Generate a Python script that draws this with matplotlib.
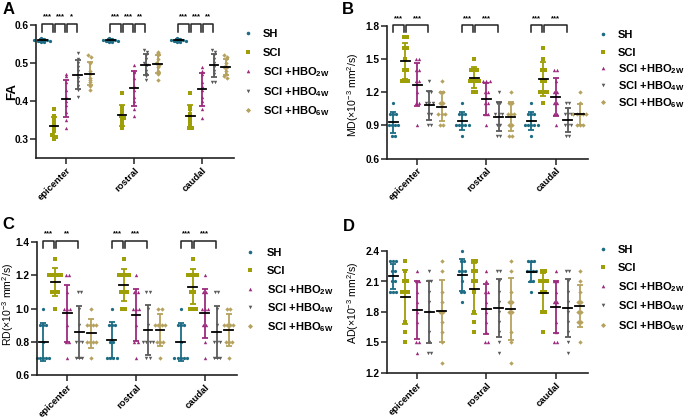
import numpy as np
import matplotlib.pyplot as plt

plt.rcParams['font.family'] = ['Liberation Sans', 'DejaVu Sans']
plt.rcParams['mathtext.fontset'] = 'custom'
plt.rcParams['mathtext.rm'] = 'Liberation Sans'
plt.rcParams['mathtext.bf'] = 'Liberation Sans:bold'

regions = ['epicenter', 'rostral', 'caudal']
groups = ['SH', 'SCI', r'SCI +HBO$_{\mathbf{2W}}$', r'SCI +HBO$_{\mathbf{4W}}$',
          r'SCI +HBO$_{\mathbf{6W}}$']
colors = ['#1d6c84', '#9e9e06', '#9c2b7e', '#5b5b5b', '#b6a25e']
markers = ['o', 's', '^', 'v', 'D']
msizes = [5.5, 6.5, 6, 6, 5]

# FA values, per group: [epicenter, rostral, caudal]
fa_sh = [[0.555, 0.56, 0.565, 0.558, 0.562, 0.556, 0.564, 0.559, 0.561, 0.557]] * 3
fa_sci = [[0.38, 0.36, 0.35, 0.34, 0.335, 0.33, 0.32, 0.31, 0.305, 0.30],
          [0.42, 0.385, 0.38, 0.37, 0.36, 0.355, 0.35, 0.34, 0.335, 0.33],
          [0.42, 0.385, 0.38, 0.365, 0.36, 0.35, 0.345, 0.335, 0.33, 0.33]]
fa_2w = [[0.47, 0.465, 0.45, 0.43, 0.41, 0.40, 0.39, 0.37, 0.35, 0.33],
         [0.495, 0.48, 0.475, 0.46, 0.44, 0.43, 0.41, 0.40, 0.38, 0.36],
         [0.49, 0.48, 0.47, 0.45, 0.44, 0.43, 0.41, 0.40, 0.38, 0.355]]
fa_4w = [[0.525, 0.51, 0.50, 0.49, 0.48, 0.46, 0.45, 0.44, 0.43, 0.41],
         [0.535, 0.53, 0.52, 0.51, 0.50, 0.495, 0.48, 0.47, 0.465, 0.455],
         [0.535, 0.53, 0.52, 0.51, 0.50, 0.49, 0.48, 0.47, 0.45, 0.45]]
fa_6w = [[0.52, 0.515, 0.50, 0.48, 0.47, 0.46, 0.455, 0.45, 0.44, 0.43],
         [0.53, 0.525, 0.52, 0.51, 0.50, 0.495, 0.49, 0.48, 0.47, 0.455],
         [0.52, 0.515, 0.51, 0.50, 0.49, 0.49, 0.48, 0.47, 0.465, 0.46]]

# MD
md_sh = [[1.1, 1.0, 1.0, 1.0, 0.9, 0.9, 0.9, 0.9, 0.8, 0.8],
         [1.1, 1.0, 1.0, 1.0, 0.9, 0.9, 0.9, 0.9, 0.9, 0.8],
         [1.1, 1.0, 1.0, 1.0, 0.9, 0.9, 0.9, 0.9, 0.9, 0.8]]
md_sci = [[1.7, 1.7, 1.6, 1.6, 1.5, 1.4, 1.4, 1.3, 1.3, 1.3],
          [1.5, 1.4, 1.4, 1.4, 1.3, 1.3, 1.3, 1.2, 1.2, 1.3],
          [1.6, 1.5, 1.4, 1.4, 1.3, 1.3, 1.2, 1.2, 1.2, 1.1]]
md_2w = [[1.5, 1.5, 1.4, 1.4, 1.3, 1.3, 1.2, 1.1, 1.1, 0.9],
         [1.3, 1.3, 1.3, 1.2, 1.2, 1.1, 1.1, 1.0, 1.0, 0.9],
         [1.4, 1.4, 1.3, 1.2, 1.2, 1.1, 1.1, 1.0, 1.0, 0.9]]
md_4w = [[1.3, 1.2, 1.2, 1.1, 1.1, 1.1, 1.0, 1.0, 0.9, 0.9],
         [1.2, 1.1, 1.1, 1.0, 1.0, 1.0, 0.9, 0.9, 0.8, 0.8],
         [1.1, 1.1, 1.0, 1.0, 1.0, 0.9, 0.9, 0.9, 0.8, 0.8]]
md_6w = [[1.3, 1.2, 1.2, 1.1, 1.1, 1.0, 1.0, 1.0, 0.9, 0.9],
         [1.2, 1.1, 1.1, 1.0, 1.0, 1.0, 0.9, 0.9, 0.8, 0.8],
         [1.2, 1.1, 1.0, 1.0, 1.0, 1.0, 0.9, 0.9, 0.9, 1.0]]

# RD
rd_sh = [[1.0, 0.9, 0.9, 0.9, 0.8, 0.7, 0.7, 0.7, 0.7, 0.7],
         [1.0, 0.9, 0.9, 0.9, 0.8, 0.8, 0.7, 0.7, 0.7, 0.7],
         [1.0, 0.9, 0.9, 0.9, 0.8, 0.7, 0.7, 0.7, 0.7, 0.7]]
rd_sci = [[1.3, 1.2, 1.2, 1.2, 1.2, 1.2, 1.1, 1.1, 1.1, 1.0],
          [1.3, 1.2, 1.2, 1.2, 1.2, 1.1, 1.1, 1.1, 1.0, 1.0],
          [1.3, 1.2, 1.2, 1.2, 1.2, 1.1, 1.1, 1.0, 1.0, 1.0]]
rd_2w = [[1.2, 1.2, 1.1, 1.0, 1.0, 1.0, 0.9, 0.8, 0.8, 0.7],
         [1.2, 1.1, 1.1, 1.0, 1.0, 1.0, 0.9, 0.8, 0.8, 0.7],
         [1.2, 1.1, 1.1, 1.0, 1.0, 1.0, 0.9, 0.9, 0.8, 0.7]]
rd_4w = [[1.1, 1.1, 1.0, 0.9, 0.8, 0.8, 0.8, 0.7, 0.7, 0.7],
         [1.1, 1.1, 1.0, 0.9, 0.8, 0.8, 0.8, 0.7, 0.7, 0.8],
         [1.1, 1.1, 1.0, 0.9, 0.8, 0.8, 0.8, 0.7, 0.7, 0.7]]
rd_6w = [[1.0, 0.9, 0.9, 0.9, 0.8, 0.8, 0.8, 0.8, 0.9, 0.7],
         [1.0, 1.0, 0.9, 0.9, 0.9, 0.8, 0.8, 0.8, 0.7, 0.9],
         [1.0, 1.0, 0.9, 0.9, 0.8, 0.8, 0.8, 0.9, 0.7, 0.9]]

# AD
ad_sh = [[2.3, 2.3, 2.3, 2.2, 2.2, 2.1, 2.1, 2.0, 2.0, 2.0],
         [2.4, 2.3, 2.3, 2.2, 2.2, 2.2, 2.1, 2.0, 2.0, 1.9],
         [2.3, 2.3, 2.3, 2.2, 2.2, 2.2, 2.2, 2.1, 2.1, 2.0]]
ad_sci = [[2.3, 2.2, 2.1, 2.1, 2.0, 2.0, 2.0, 1.7, 1.6, 1.5],
          [2.3, 2.3, 2.2, 2.2, 2.1, 2.1, 2.0, 1.8, 1.7, 1.6],
          [2.2, 2.2, 2.1, 2.1, 2.1, 2.0, 2.0, 1.8, 1.8, 1.6]]
ad_2w = [[2.2, 2.1, 2.1, 2.0, 1.9, 1.8, 1.7, 1.5, 1.5, 1.4],
         [2.2, 2.1, 2.0, 2.0, 1.9, 1.8, 1.7, 1.6, 1.5, 1.5],
         [2.2, 2.1, 2.1, 2.0, 1.9, 1.9, 1.7, 1.6, 1.5, 1.5]]
ad_4w = [[2.2, 2.1, 2.1, 2.0, 1.9, 1.8, 1.6, 1.5, 1.4, 1.4],
         [2.2, 2.2, 2.1, 2.0, 1.9, 1.8, 1.7, 1.6, 1.5, 1.4],
         [2.2, 2.2, 2.1, 2.0, 1.9, 1.8, 1.7, 1.6, 1.5, 1.4]]
ad_6w = [[2.3, 2.2, 2.0, 1.9, 1.8, 1.8, 1.7, 1.6, 1.5, 1.3],
         [2.3, 2.2, 2.0, 1.9, 1.9, 1.8, 1.8, 1.6, 1.5, 1.3],
         [2.2, 2.1, 2.0, 1.9, 1.9, 1.8, 1.8, 1.7, 1.7, 1.5]]

# significance brackets: (region, group from, group to, label)
sig_fa = [(0, 0, 1, '***'), (0, 1, 2, '***'), (0, 2, 3, '*'),
          (1, 0, 1, '***'), (1, 1, 2, '***'), (1, 2, 3, '**'),
          (2, 0, 1, '***'), (2, 1, 2, '***'), (2, 2, 3, '**')]
sig_md = [(0, 0, 1, '***'), (0, 1, 3, '***'),
          (1, 0, 1, '***'), (1, 1, 3, '***'),
          (2, 0, 1, '***'), (2, 1, 3, '***')]
sig_rd = [(0, 0, 1, '***'), (0, 1, 3, '**'),
          (1, 0, 1, '***'), (1, 1, 3, '***'),
          (2, 0, 1, '***'), (2, 1, 3, '***')]

offs = np.array([-0.35, -0.175, 0.0, 0.175, 0.35])
W, H = 685.0, 419.0


def spread(vals, binh, dx=0.045):
    # place equal-ish values side by side
    keys = np.round(vals / binh)
    out = np.zeros(len(vals))
    for k in np.unique(keys):
        idx = np.where(keys == k)[0]
        n = len(idx)
        out[idx] = (np.arange(n) - (n - 1) / 2) * dx
    return out


def panel(ax, data, ylim, yticks, ylabel, ylabel_kw, label_xy, sig=None, sig_y=None):
    binh = (ylim[1] - ylim[0]) * 0.02
    for g in range(5):
        for r in range(3):
            vals = np.array(data[g][r])
            x0 = r + offs[g]
            ax.scatter(x0 + spread(vals, binh), vals, s=msizes[g], marker=markers[g],
                       color=colors[g], lw=0, zorder=2, clip_on=False)
            m, sd = vals.mean(), vals.std(ddof=1)
            ax.errorbar(x0, m, yerr=sd, fmt='none', ecolor=colors[g], capsize=2.2,
                        elinewidth=1.3, capthick=1.3, zorder=3)
            ax.plot([x0 - 0.065, x0 + 0.065], [m, m], color='black', lw=1.3, zorder=4)
    ax.set_xlim(-0.44, 2.47)
    ax.set_ylim(*ylim)
    ax.set_yticks(yticks)
    ax.set_yticklabels(['%.1f' % t for t in yticks], fontsize=7.3, fontweight='bold')
    ax.set_xticks(range(3))
    ax.set_xticklabels(regions, rotation=45, ha='right', rotation_mode='anchor',
                       fontsize=6.8, fontweight='bold')
    ax.set_ylabel(ylabel, va='center', ha='center', **ylabel_kw)
    ax.yaxis.set_label_coords(label_xy[0] / W, 1 - label_xy[1] / H, transform=fig.transFigure)
    for s in ['top', 'right']:
        ax.spines[s].set_visible(False)
    for s in ['left', 'bottom']:
        ax.spines[s].set_linewidth(1.2)
        ax.spines[s].set_color('#222222')
    ax.tick_params(width=1.1, length=4, color='#222222', pad=1.5)
    if sig:
        top, leg, lab = sig_y
        for r, a, b, txt in sig:
            xa = r + offs[a] + (0.015 if a > 0 else 0)
            xb = r + offs[b] - 0.015
            ax.plot([xa, xa, xb, xb], [leg, top, top, leg], color='#222222',
                    lw=1.1, clip_on=False, zorder=5)
            ax.text((xa + xb) / 2, lab, txt, ha='center', va='center',
                    fontsize=5.5, fontweight='bold', clip_on=False)


def legend(mx, tx, rows):
    # marker + label rows, positions in figure pixels
    for g in range(5):
        y = 1 - rows[g] / H
        fig.add_artist(plt.Line2D([mx / W], [y], ls='none', marker=markers[g],
                                  color=colors[g], markersize=2.6, markeredgewidth=0,
                                  transform=fig.transFigure))
        fig.text(tx / W, y - 4 / H, groups[g], fontsize=8, fontweight='bold',
                 ha='left', va='baseline')


fig = plt.figure(figsize=(6.85, 4.19), dpi=100)

axA = fig.add_axes([36 / W, (H - 158) / H, 198 / W, 133 / H])
panel(axA, [fa_sh, fa_sci, fa_2w, fa_4w, fa_6w], (0.25, 0.6), [0.3, 0.4, 0.5, 0.6],
      'FA', {'fontsize': 9.5, 'fontweight': 'bold'}, (12, 91),
      sig_fa, (0.6026, 0.582, 0.621))
legend(248, 263, [33, 52, 71, 91, 110])

axB = fig.add_axes([387 / W, (H - 158.5) / H, 201 / W, 132.5 / H])
panel(axB, [md_sh, md_sci, md_2w, md_4w, md_6w], (0.6, 1.8), [0.6, 0.9, 1.2, 1.5, 1.8],
      r'MD($\times$10$^{-3}$ mm$^{2}$/s)', {'fontsize': 7.6}, (353, 95),
      sig_md, (1.809, 1.745, 1.87))
legend(603, 618, [34, 52, 68.5, 85, 102])

axC = fig.add_axes([37 / W, (H - 375) / H, 200 / W, 133 / H])
panel(axC, [rd_sh, rd_sci, rd_2w, rd_4w, rd_6w], (0.6, 1.4), [0.6, 0.8, 1.0, 1.2, 1.4],
      r'RD($\times$10$^{-3}$ mm$^{2}$/s)', {'fontsize': 7.6}, (8, 304),
      sig_rd, (1.406, 1.364, 1.448))
legend(250, 267, [252, 270, 289, 307, 326])

axD = fig.add_axes([387 / W, (H - 373) / H, 201 / W, 122 / H])
panel(axD, [ad_sh, ad_sci, ad_2w, ad_4w, ad_6w], (1.2, 2.4), [1.2, 1.5, 1.8, 2.1, 2.4],
      r'AD($\times$10$^{-3}$ mm$^{2}$/s)', {'fontsize': 7.6}, (353, 303))
legend(603, 618, [249, 267, 286, 305, 325])

for lab, x, y in [('A', 3, 2), ('B', 342, 2), ('C', 2, 217), ('D', 343, 219)]:
    fig.text(x / W, 1 - y / H, lab, fontsize=12, fontweight='bold', va='top', ha='left')

fig.savefig('out.png', dpi=100)
